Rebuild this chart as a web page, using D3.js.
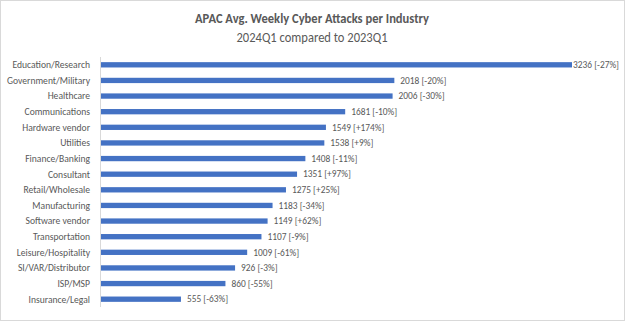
<!DOCTYPE html>
<html><head><meta charset="utf-8">
<script src="https://cdn.jsdelivr.net/npm/d3@7"></script>
<style>
html,body{margin:0;padding:0;background:#fff;}
svg{display:block;}
</style></head>
<body>
<script>
const categories = ["Education/Research","Government/Military","Healthcare","Communications","Hardware vendor","Utilities","Finance/Banking","Consultant","Retail/Wholesale","Manufacturing","Software vendor","Transportation","Leisure/Hospitality","SI/VAR/Distributor","ISP/MSP","Insurance/Legal"];
const values = [3236,2018,2006,1681,1549,1538,1408,1351,1275,1183,1149,1107,1009,926,860,555];
const changes = ["-27%","-20%","-30%","-10%","+174%","+9%","-11%","+97%","+25%","-34%","+62%","-9%","-61%","-3%","-55%","-63%"];

const W = 625, H = 321;
const svg = d3.select("body").append("svg").attr("width", W).attr("height", H);
svg.append("rect").attr("x",0.5).attr("y",0.5).attr("width",W-1).attr("height",H-1)
  .attr("fill","#fff").attr("stroke","#d9d9d9");

const font = "Carlito, Calibri, 'Liberation Sans Narrow', 'Open Sans', sans-serif";
svg.append("text").attr("x",312).attr("y",22.5).attr("text-anchor","middle")
  .attr("font-family",font).attr("font-size",13.2).attr("font-weight","bold").attr("fill","#595959")
  .attr("textLength",234).attr("lengthAdjust","spacingAndGlyphs")
  .text("APAC Avg. Weekly Cyber Attacks per Industry");
svg.append("text").attr("x",312).attr("y",41.5).attr("text-anchor","middle")
  .attr("font-family",font).attr("font-size",13.2).attr("fill","#595959")
  .attr("textLength",151).attr("lengthAdjust","spacingAndGlyphs")
  .text("2024Q1 compared to 2023Q1");

const x0 = 100;
const x = d3.scaleLinear().domain([0, 3236]).range([x0, 572]);
const y = d3.scaleBand().domain(categories).range([57, 307]).paddingInner(0.66).paddingOuter(0.33);

svg.selectAll("rect.bar").data(categories).enter().append("rect").attr("class","bar")
  .attr("x", x(0)).attr("y", d => y(d)).attr("height", y.bandwidth())
  .attr("width", (d,i) => x(values[i]) - x(0)).attr("fill","#4472C4");

svg.append("line").attr("x1",x0+0.5).attr("x2",x0+0.5).attr("y1",57).attr("y2",307)
  .attr("stroke","#d9d9d9");

svg.selectAll("text.cat").data(categories).enter().append("text").attr("class","cat")
  .attr("x", 90).attr("y", d => y(d) + y.bandwidth()/2).attr("dy","0.35em")
  .attr("text-anchor","end").attr("font-family",font).attr("font-size",9.6).attr("fill","#595959")
  .text(d => d);

svg.selectAll("text.val").data(categories).enter().append("text").attr("class","val")
  .attr("y", d => y(d) + y.bandwidth()/2).attr("dy","0.35em")
  .attr("font-family",font).attr("font-size",9.4).attr("fill","#595959")
  .text((d,i) => `${values[i]} [${changes[i]}]`)
  .attr("x", function(d,i){ const w = this.getComputedTextLength(); return Math.min(x(values[i]) + 6, 619 - w); });
</script>
</body></html>
